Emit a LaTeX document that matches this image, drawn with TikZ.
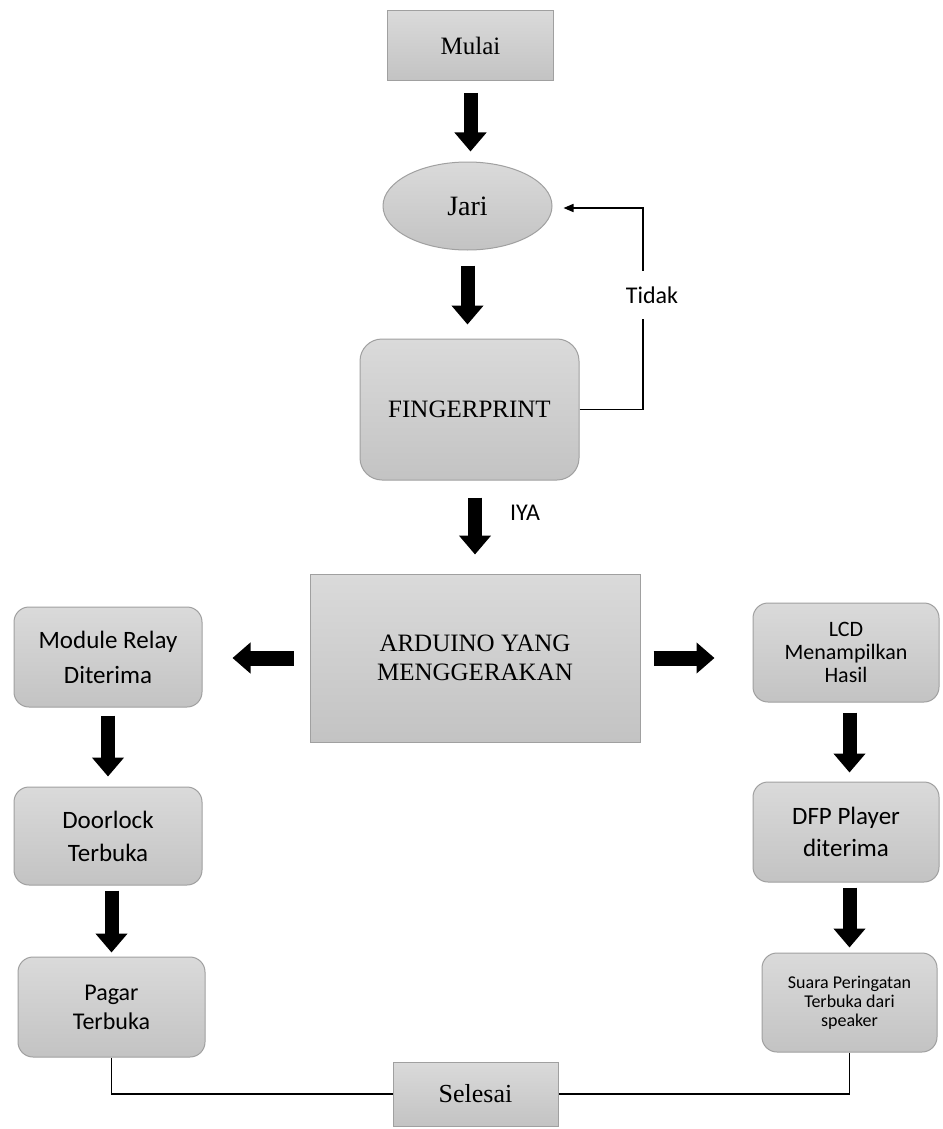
\documentclass[tikz,border=0pt]{standalone}
\usepackage{fontspec}
\setmainfont{Liberation Serif}
\newfontfamily\calib{Carlito}
\usetikzlibrary{arrows.meta,shapes.geometric}
\definecolor{boxtop}{HTML}{DADADA}
\definecolor{boxbot}{HTML}{C3C3C3}
\definecolor{boxedge}{HTML}{A0A0A0}
\begin{document}
\begin{tikzpicture}[x=1pt,y=-1pt,
  gbox/.style={draw=boxedge, line width=1pt, top color=boxtop, bottom color=boxbot, inner sep=0pt, align=center},
  rbox/.style={gbox, rounded corners=15pt},
  serifL/.style={font=\fontsize{25}{29}\selectfont},
  sansL/.style={font=\calib\fontsize{25}{33}\selectfont},
  bigarrow/.style={line width=14pt, -{Triangle[width=31pt,length=19pt]}},
  sidearrow/.style={line width=15pt, -{Triangle[width=30pt,length=18pt]}},
  thinline/.style={line width=1.6pt}
]
\fill[white] (0,0) rectangle (942,1129);
\useasboundingbox (0,0) rectangle (942,1129);

% nodes
\node[gbox, serifL, minimum width=166pt, minimum height=70pt] (mulai) at (470.5,45.5) {Mulai};
\node[gbox, ellipse, font=\fontsize{28}{32}\selectfont, minimum width=169pt, minimum height=88pt] (jari) at (467.5,206) {Jari};
\node[gbox, rounded corners=22pt, serifL, minimum width=219pt, minimum height=141pt] (fp) at (469.5,409.5) {FINGERPRINT};
\node[gbox, serifL, minimum width=330pt, minimum height=168pt] (ard) at (475,658) {ARDUINO YANG\\MENGGERAKAN};
\node[rbox, font=\calib\fontsize{25}{35}\selectfont, minimum width=188pt, minimum height=100pt] (relay) at (108,657) {Module Relay\\Diterima};
\node[rbox, sansL, minimum width=188pt, minimum height=98pt] (door) at (108,836) {Doorlock\\Terbuka};
\node[rbox, font=\calib\fontsize{24}{29}\selectfont, minimum width=187pt, minimum height=100pt] (pagar) at (111.5,1007) {Pagar\\Terbuka};
\node[rbox, font=\calib\fontsize{22}{23}\selectfont, minimum width=186pt, minimum height=99pt] (lcd) at (846,652.5) {LCD\\Menampilkan\\Hasil};
\node[rbox, font=\calib\fontsize{25}{32}\selectfont, minimum width=186pt, minimum height=100pt] (dfp) at (846,832) {DFP Player\\diterima};
\node[rbox, font=\calib\fontsize{18}{19}\selectfont, minimum width=175pt, minimum height=99pt] (suara) at (849.5,1002.5) {Suara Peringatan\\Terbuka dari\\speaker};
\node[gbox, font=\fontsize{26}{30}\selectfont, minimum width=165pt, minimum height=64pt] (selesai) at (475.5,1094) {Selesai};

% block arrows
\draw[bigarrow, shorten <=12pt, shorten >=10pt] (mulai.south) -- (mulai.south |- jari.north);
\draw[bigarrow, shorten <=15pt, shorten >=14pt] (jari.south) -- (jari.south |- fp.north);
\draw[bigarrow, shorten <=17pt, shorten >=19pt] (ard.north |- fp.south) -- (ard.north);
\draw[sidearrow, shorten <=16pt, shorten >=30pt] (ard.west) -- (relay.east |- ard.west);
\draw[sidearrow, shorten <=13pt, shorten >=38pt] (ard.east) -- (lcd.west |- ard.east);
\draw[bigarrow, shorten <=8pt, shorten >=10pt] (relay.south) -- (relay.south |- door.north);
\draw[bigarrow, shorten <=5pt, shorten >=4pt] (pagar.north |- door.south) -- (pagar.north);
\draw[bigarrow, shorten <=10pt, shorten >=9pt] (suara.north |- lcd.south) -- (suara.north |- dfp.north);
\draw[bigarrow, shorten <=5pt, shorten >=5pt] (suara.north |- dfp.south) -- (suara.north);

% feedback loop
\coordinate (fbk) at (643,208);
\draw[thinline, -{Triangle[length=10pt,width=8pt]}, shorten >=11pt] (fp.east) -| (fbk) -- (jari.east |- fbk);
\node[fill=white, inner xsep=2pt, inner ysep=16pt, font=\calib\fontsize{24}{28}\selectfont] (tidak) at (652,295) {Tidak};
\node[font=\calib\fontsize{24}{28}\selectfont] (iya) at (525,513) {IYA};

% end lines
\draw[thinline] (pagar.south) |- (selesai.west);
\draw[thinline] (suara.south) |- (selesai.east);
\end{tikzpicture}
\end{document}
